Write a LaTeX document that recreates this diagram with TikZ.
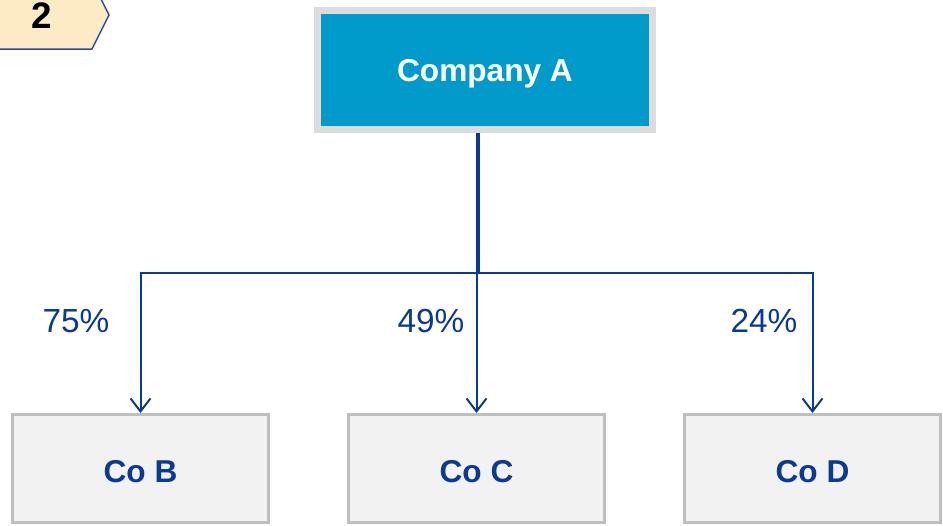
\documentclass[tikz,border=0pt]{standalone}
\usepackage{fontspec}
\setmainfont{Liberation Sans}
\usetikzlibrary{arrows.meta}
\definecolor{coblue}{HTML}{009BCB}
\definecolor{navy}{HTML}{0B3A93}
\definecolor{boxgray}{HTML}{F2F2F2}
\definecolor{edgegray}{HTML}{BFBFBF}
\definecolor{framegray}{HTML}{DCDCDC}
\definecolor{tagyellow}{HTML}{FCEBC5}
\definecolor{tagblue}{HTML}{2B4F9F}

\begin{document}
\begin{tikzpicture}[x=0.02cm, y=-0.02cm,
	parent/.style={draw=framegray, line width=0.14cm, fill=coblue, text=white, font=\bfseries\fontsize{18}{20}\selectfont, minimum width=6.7cm, minimum height=2.38cm, inner sep=0pt, text height=0.45cm, text depth=0pt},
	child/.style={draw=edgegray, line width=0.06cm, fill=boxgray, text=navy, font=\bfseries\fontsize{18}{20}\selectfont, minimum width=5.14cm, minimum height=2.16cm, inner sep=0pt, text height=0.57cm, text depth=0pt},
	share/.style={text=navy, font=\fontsize{19}{21}\selectfont},
	link/.style={navy, line width=0.04cm, -{Straight Barb[length=0.26cm, width=0.4cm]}}]
	\useasboundingbox (0,0) rectangle (943,525);
	% Step tag
	\draw [fill=tagyellow, draw=tagblue, line width=0.03cm] (-10,-19) -- (92,-19) -- (109,15) -- (92,49) -- (-10,49);
	\node (tag) at (42,16) {\bfseries\fontsize{21}{24}\selectfont 2};
	
	% Holding company
	\node [parent] (A) at (485,70) {Company A};
	
	% Subsidiaries
	\node [child] (B) at (140.5,468.5) {Co B};
	\node [child] (C) at (476.5,468.5) {Co C};
	\node [child] (D) at (812.5,468.5) {Co D};
	
	% Ownership lines
	\coordinate (split) at (477.5,273);
	\draw [navy, line width=0.08cm] (A.south -| split) -- (split);
	\draw [link] (split) -| (B.north);
	\draw [link] (split) -| (C.north);
	\draw [link] (split) -| (D.north);
	
	% Shares held
	\node [share] (pB) at (76,321) {75\%};
	\node [share] (pC) at (431,321) {49\%};
	\node [share] (pD) at (764,321) {24\%};
\end{tikzpicture}
\end{document}
